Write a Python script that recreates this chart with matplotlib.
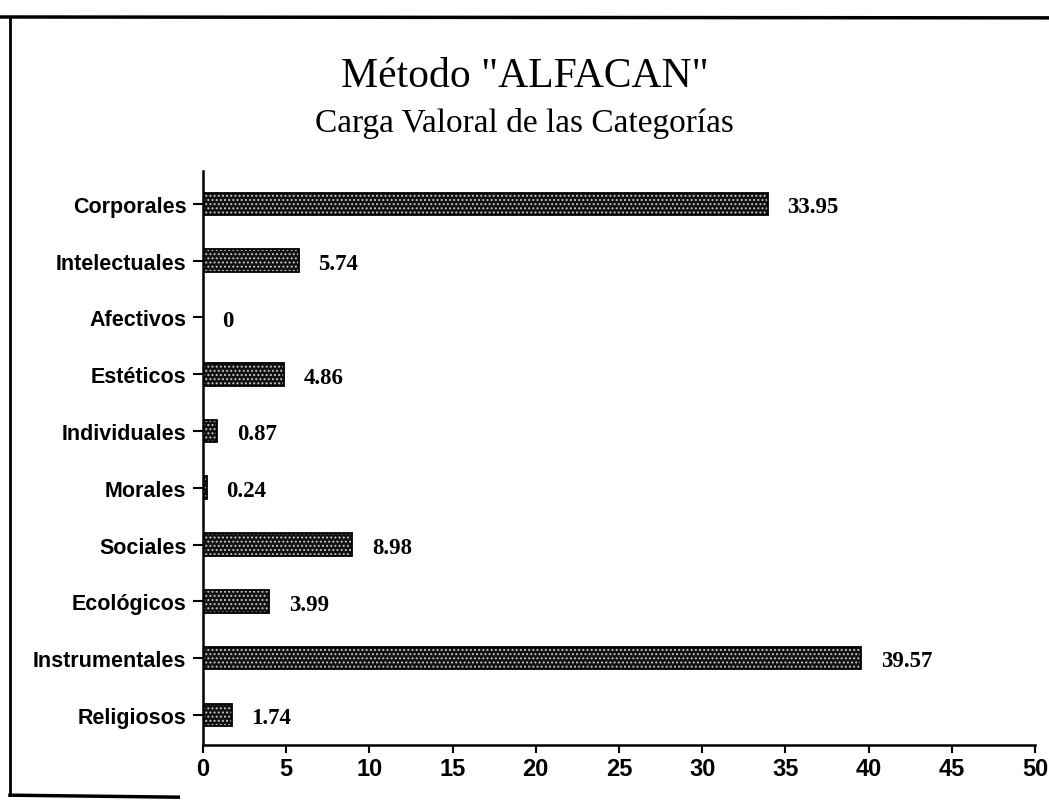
import matplotlib
matplotlib.use('Agg')
import matplotlib.pyplot as plt
from matplotlib.lines import Line2D

categorias = ['Corporales', 'Intelectuales', 'Afectivos', 'Estéticos', 'Individuales',
              'Morales', 'Sociales', 'Ecológicos', 'Instrumentales', 'Religiosos']
valores = [33.95, 5.74, 0, 4.86, 0.87, 0.24, 8.98, 3.99, 39.57, 1.74]
etiquetas = ['33.95', '5.74', '0', '4.86', '0.87', '0.24', '8.98', '3.99', '39.57', '1.74']
xticks = [0, 5, 10, 15, 20, 25, 30, 35, 40, 45, 50]

plt.rcParams['hatch.linewidth'] = 0.9

fig = plt.figure(figsize=(10.49, 8.03), dpi=100)
ax = fig.add_axes([0.1935, 0.071, 0.7932, 0.7148])

pos = list(range(len(categorias)))[::-1]
# dark fill, then white dot pattern on top, then outline
ax.barh(pos, valores, height=0.4, color='#111111', edgecolor='#111111', linewidth=0)
ax.barh(pos, valores, height=0.4, color='none', edgecolor='#c8c8c8', hatch='....', linewidth=0)
ax.barh(pos, valores, height=0.4, color='none', edgecolor='black', linewidth=1.3)

for p, v, t in zip(pos, valores, etiquetas):
    ax.annotate(t, (v, p), xytext=(14, -2), textcoords='offset points', va='center', ha='left',
                family='Liberation Serif', fontweight='bold', fontsize=16.5)

ax.set_xlim(0, 50)
ax.set_ylim(-0.53, 9.58)
ax.set_xticks(xticks)
ax.set_xticklabels([str(x) for x in xticks], family='Liberation Sans', fontweight='bold', fontsize=17)
ax.set_yticks(pos)
ax.set_yticklabels(categorias, family='Liberation Sans', fontweight='bold', fontsize=15.5)
ax.tick_params(axis='y', length=7, width=1.5, pad=5)
ax.tick_params(axis='x', length=6, width=1.5, pad=3)

for s in ['top', 'right']:
    ax.spines[s].set_visible(False)
for s in ['left', 'bottom']:
    ax.spines[s].set_linewidth(1.8)

fig.text(0.5, 1 - 87 / 803, 'Método "ALFACAN"', ha='center', va='baseline',
         family='Liberation Serif', fontsize=30)
fig.text(0.5, 1 - 132 / 803, 'Carga Valoral de las Categorías', ha='center', va='baseline',
         family='Liberation Serif', fontsize=24)

# scanned page frame
fig.add_artist(Line2D([0, 1], [0.9776, 0.9765], color='black', lw=2.5, transform=fig.transFigure))
fig.add_artist(Line2D([0.0095, 0.0095], [0.978, 0.0085], color='black', lw=2, transform=fig.transFigure))
fig.add_artist(Line2D([0.0095, 0.17], [0.0085, 0.006], color='black', lw=2.5, transform=fig.transFigure))

fig.savefig('out.png', dpi=100)
